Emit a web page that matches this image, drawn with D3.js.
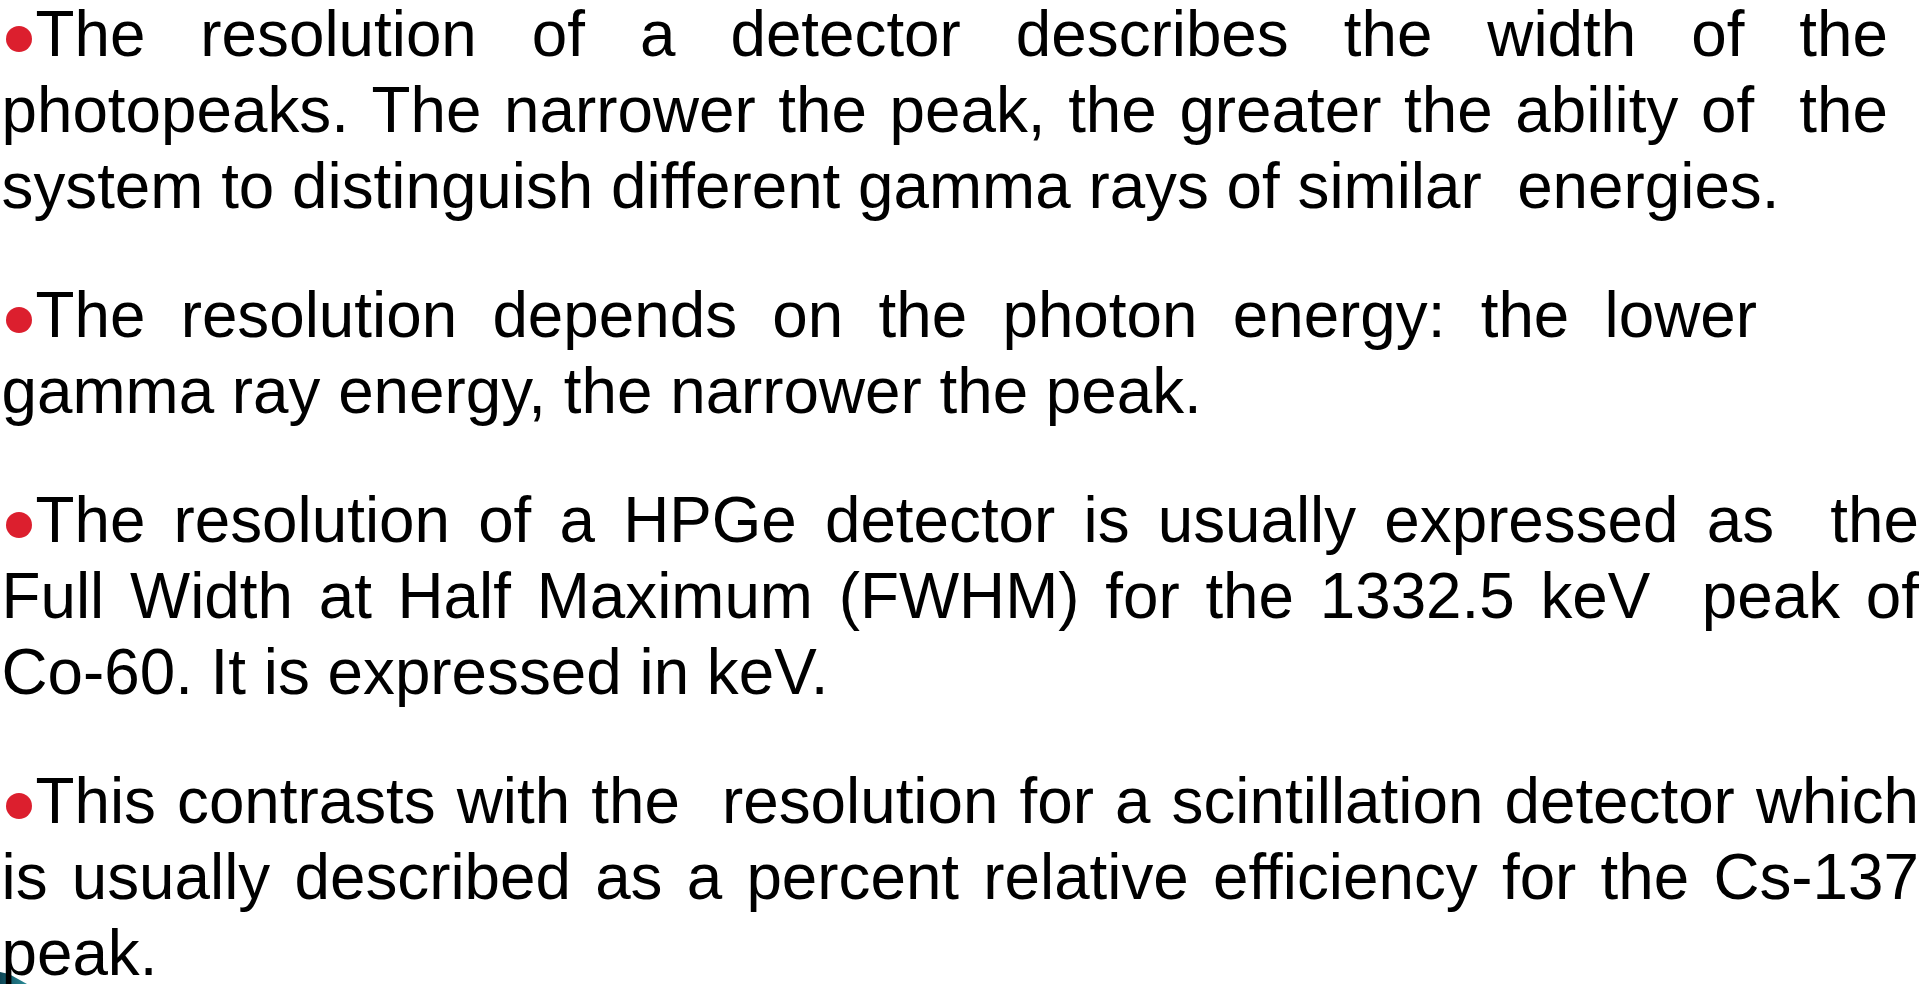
<!DOCTYPE html>
<html><head><meta charset="utf-8">
<script src="https://cdn.jsdelivr.net/npm/d3@7"></script>
<style>html,body{margin:0;padding:0;background:#fff;overflow:hidden}</style>
</head><body>
<script>
// ---- content ----
const para1 = [
  "The resolution of a detector describes the width of the",
  "photopeaks. The narrower the peak, the greater the ability of  the",
  "system to distinguish different gamma rays of similar  energies."
];
const para2 = [
  "The resolution depends on the photon energy: the lower",
  "gamma ray energy, the narrower the peak."
];
const para3 = [
  "The resolution of a HPGe detector is usually expressed as  the",
  "Full Width at Half Maximum (FWHM) for the 1332.5 keV  peak of",
  "Co-60. It is expressed in keV."
];
const para4 = [
  "This contrasts with the  resolution for a scintillation detector which",
  "is usually described as a percent relative efficiency for the Cs-137",
  "peak."
];
const paragraphs = [para1, para2, para3, para4];

// ---- layout (not data) ----
const W = 1919, H = 984;
const FS = 65, SX = 0.981, LINE = 76, PGAP = 53, TOP = 56;
const justifyRight = [[1888, 1888, null], [1757, null], [1919, 1919, null], [1919, 1919, null]];
const FONT = "'Liberation Sans', Arial, Helvetica, sans-serif";

const svg = d3.select("body").append("svg")
  .attr("width", W).attr("height", H).attr("viewBox", `0 0 ${W} ${H}`);
svg.append("rect").attr("width", W).attr("height", H).attr("fill", "#fff");

// baseline scale: global line index -> y (paragraph gaps added)
const yLine = d3.scaleLinear().domain([0, 1]).range([TOP, TOP + LINE]);

const meas = svg.append("text").attr("font-family", FONT).attr("font-size", FS)
  .attr("x", -5000).attr("y", -5000);
const wOf = s => { meas.text(s); return meas.node().getComputedTextLength(); };
const spaceW = wOf("x x") - wOf("xx");

// teal corner decoration
const defs = svg.append("defs");
const grad = defs.append("linearGradient").attr("id", "teal").attr("x1", 0).attr("x2", 1).attr("y1", 0).attr("y2", 0);
grad.append("stop").attr("offset", 0).attr("stop-color", "#0d4656");
grad.append("stop").attr("offset", 1).attr("stop-color", "#2a8c98");
svg.append("path").attr("d", "M0,972 L9,974 L27,984 L0,984 Z").attr("fill", "url(#teal)");

let g = 0;
paragraphs.forEach((lines, pi) => {
  lines.forEach((line, li) => {
    const base = yLine(g) + PGAP * pi;
    const first = li === 0;
    const x0 = first ? 35.5 : 1.5;
    if (first) {
      svg.append("circle").attr("cx", 19).attr("cy", base - 17).attr("r", 13).attr("fill", "#dc1f2e");
    }
    const tokens = line.split(/( +)/).filter(t => t.length);
    const words = tokens.filter(t => t[0] !== " ");
    const nSpaces = tokens.filter(t => t[0] === " ").reduce((a, t) => a + t.length, 0);
    const natural = words.reduce((a, w) => a + wOf(w), 0) + nSpaces * spaceW;
    const target = justifyRight[pi][li];
    let sp = spaceW;
    if (target != null && nSpaces > 0) {
      sp = spaceW + ((target - x0) / SX - natural) / nSpaces;
    }
    const grp = svg.append("g").attr("transform", `translate(${x0},${base}) scale(${SX},1)`);
    const txt = grp.append("text").attr("font-family", FONT).attr("font-size", FS).attr("fill", "#000");
    let x = 0;
    tokens.forEach(t => {
      if (t[0] === " ") { x += t.length * sp; return; }
      txt.append("tspan").attr("x", x).attr("y", 0).text(t);
      x += wOf(t);
    });
    g++;
  });
});
meas.remove();
</script>
</body></html>
